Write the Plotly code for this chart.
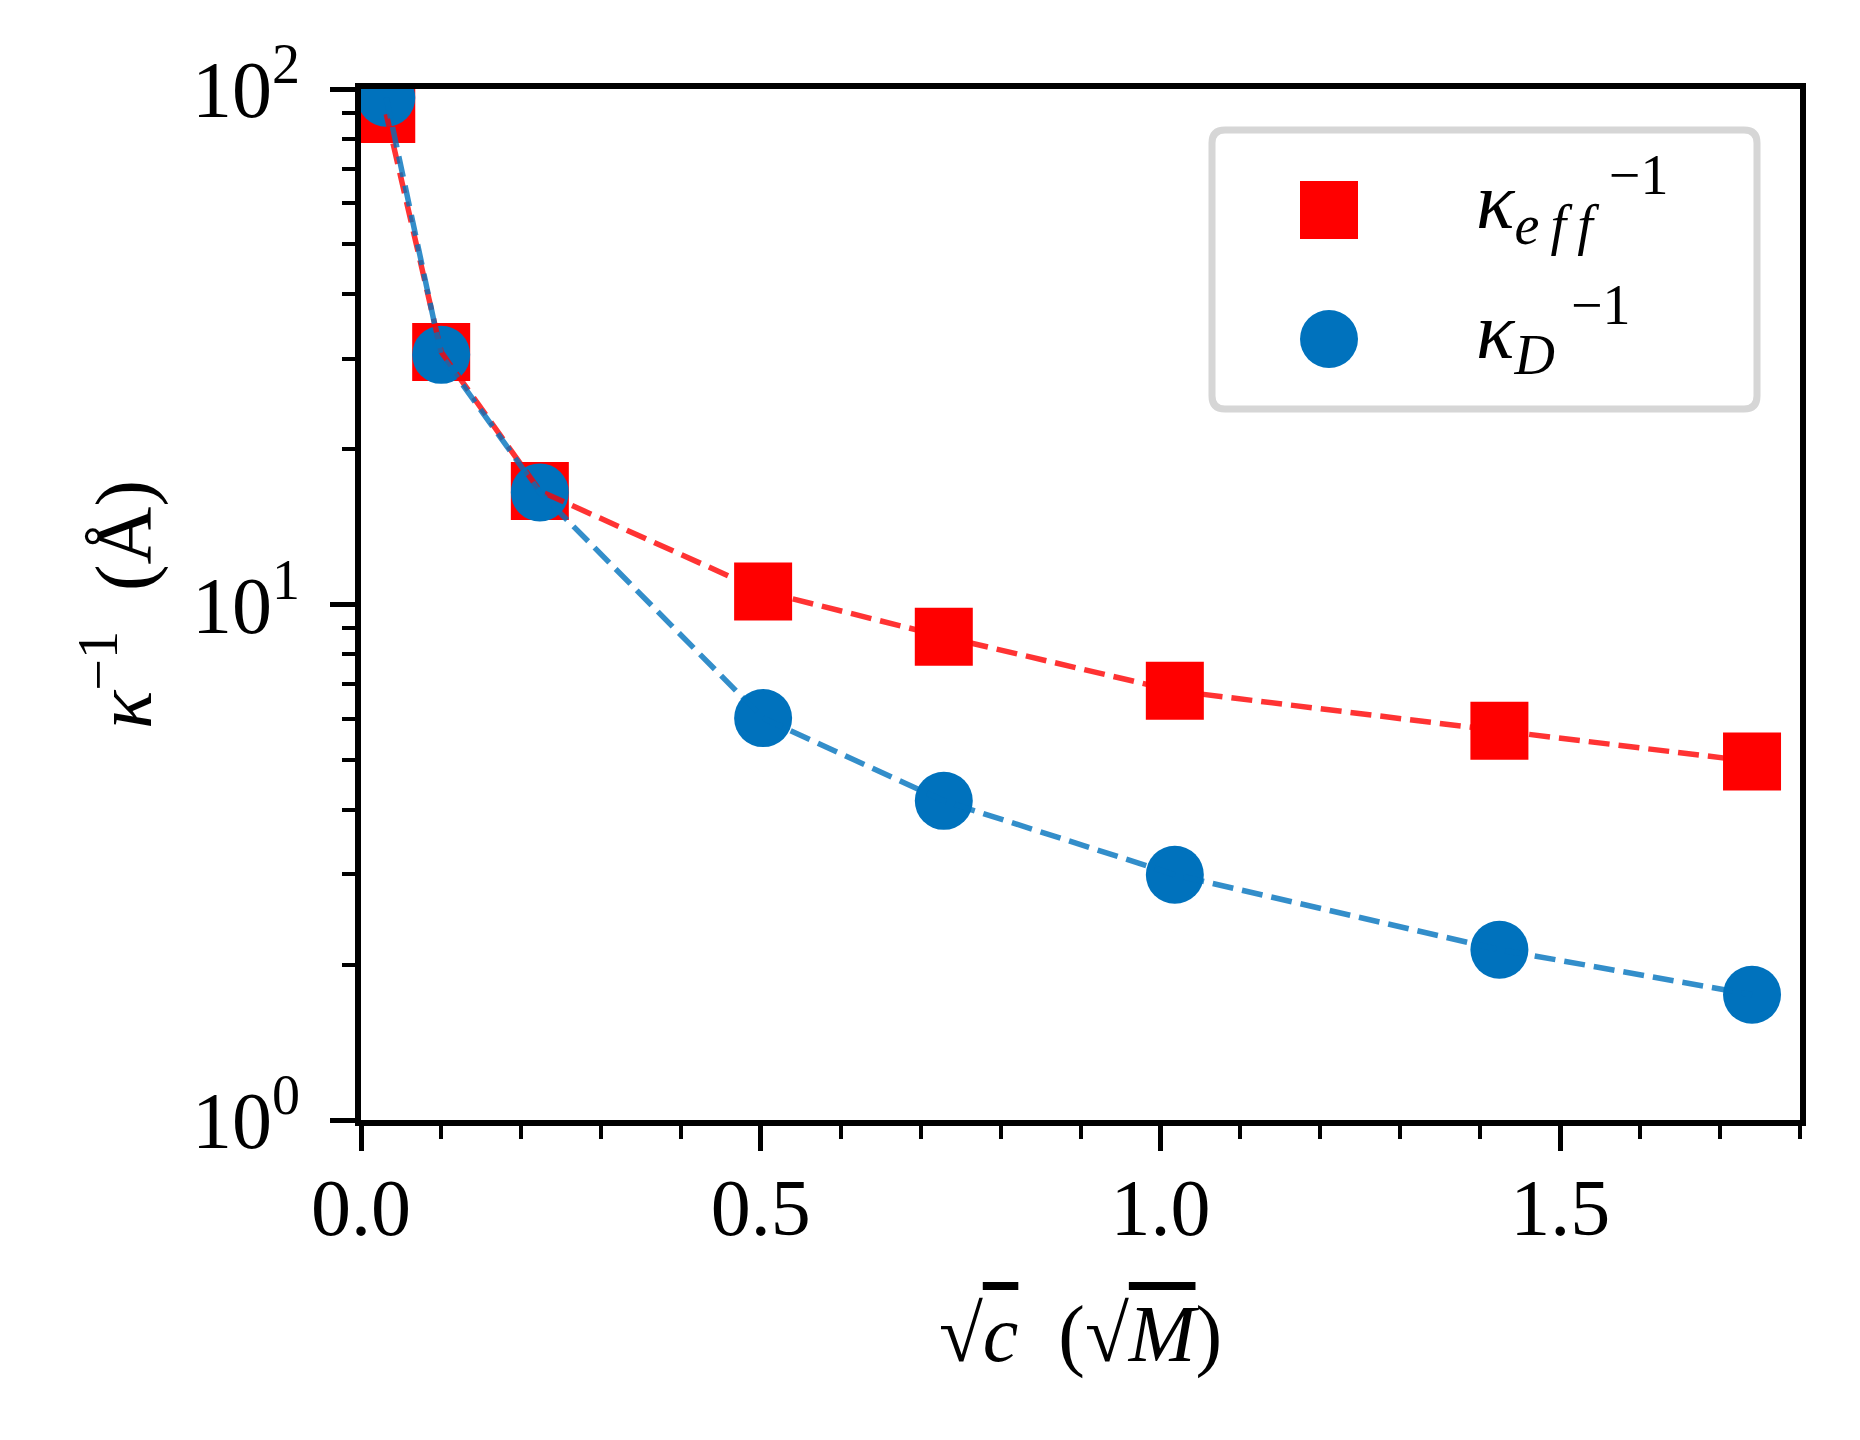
import plotly.graph_objects as go

# ---------------- data ----------------
sqrt_c = [0.0316, 0.1003, 0.2237, 0.503, 0.729, 1.018, 1.424, 1.740]
kappa_eff_inv = [89.4, 30.9, 16.6, 10.6, 8.66, 6.80, 5.69, 4.96]
kappa_d_inv = [96.2, 30.5, 16.5, 6.02, 4.16, 2.99, 2.14, 1.75]

name_eff = "<i>κ</i><sub><i>e\u2009f\u2009f</i></sub>\u2009<sup>−1</sup>"
name_d = "<i>κ</i><sub><i>D</i></sub>\u2009<sup>−1</sup>"

x_tick_vals = [0.0, 0.5, 1.0, 1.5]
x_tick_text = ["0.0", "0.5", "1.0", "1.5"]
y_tick_vals = [1, 10, 100]
y_tick_text = ["10<sup>0</sup>", "10<sup>1</sup>", "10<sup>2</sup>"]

# ---------------- styling ----------------
W, H = 1860, 1440
ML, MR, MT, MB = 361, 60, 89, 320
PW, PH = W - ML - MR, H - MT - MB
FONT = "Liberation Serif, Times New Roman, serif"
FS = 80
RED = "#ff0000"
BLUE = "#0072bd"
RED_LINE = "rgba(255,0,0,0.8)"
BLUE_LINE = "rgba(0,114,189,0.8)"
MSIZE = 58


def px_x(p):
    return (p - ML) / PW


def px_y(p):
    return (MT + PH - p) / PH


fig = go.Figure()

fig.add_trace(go.Scatter(x=sqrt_c, y=kappa_eff_inv, mode="markers", name=name_eff,
                         marker=dict(symbol="square", size=MSIZE, color=RED, line=dict(width=0)),
                         showlegend=False))
fig.add_trace(go.Scatter(x=sqrt_c, y=kappa_d_inv, mode="markers", name=name_d,
                         marker=dict(symbol="circle", size=MSIZE, color=BLUE, line=dict(width=0)),
                         showlegend=False))
fig.add_trace(go.Scatter(x=sqrt_c, y=kappa_eff_inv, mode="lines", showlegend=False,
                         line=dict(color=RED_LINE, width=5.5, dash="21px,9px")))
fig.add_trace(go.Scatter(x=sqrt_c, y=kappa_d_inv, mode="lines", showlegend=False,
                         line=dict(color=BLUE_LINE, width=5.5, dash="21px,9px")))

# ---------------- manual legend (rounded frame, large symbols) ----------------
bx0, bx1, by0, by1, rad = 1212, 1757, 130, 409, 13
X0, X1 = px_x(bx0), px_x(bx1)
Y0, Y1 = px_y(by0), px_y(by1)  # Y0 top (larger), Y1 bottom
rx, ry = rad / PW, rad / PH
path = (f"M {X0+rx},{Y0} L {X1-rx},{Y0} Q {X1},{Y0} {X1},{Y0-ry} "
        f"L {X1},{Y1+ry} Q {X1},{Y1} {X1-rx},{Y1} L {X0+rx},{Y1} "
        f"Q {X0},{Y1} {X0},{Y1+ry} L {X0},{Y0-ry} Q {X0},{Y0} {X0+rx},{Y0} Z")
shapes = [dict(type="path", xref="paper", yref="paper", path=path,
               line=dict(color="#d6d6d6", width=7), fillcolor="rgba(255,255,255,0.8)", layer="above")]

sym_cx, half = 1329, MSIZE / 2
for cy, kind, col in [(210, "rect", RED), (339, "circle", BLUE)]:
    shapes.append(dict(type=kind, xref="paper", yref="paper",
                       x0=px_x(sym_cx - half), x1=px_x(sym_cx + half),
                       y0=px_y(cy + half), y1=px_y(cy - half),
                       fillcolor=col, line=dict(width=0), layer="above"))

annotations = [
    dict(text=name_eff, xref="paper", yref="paper", x=px_x(1474), y=px_y(200),
         xanchor="left", yanchor="middle", showarrow=False, font=dict(family=FONT, size=FS, color="black")),
    dict(text=name_d, xref="paper", yref="paper", x=px_x(1474), y=px_y(330),
         xanchor="left", yanchor="middle", showarrow=False, font=dict(family=FONT, size=FS, color="black")),
]

axis_common = dict(showline=True, linecolor="black", linewidth=6, mirror=True,
                   ticks="outside", ticklen=25, tickwidth=5, tickcolor="black",
                   showgrid=False, zeroline=False,
                   tickfont=dict(family=FONT, size=FS, color="black"))

fig.update_layout(
    width=W, height=H,
    margin=dict(l=ML, r=MR, t=MT, b=MB),
    paper_bgcolor="white", plot_bgcolor="white",
    font=dict(family=FONT, size=FS, color="black"),
    shapes=shapes, annotations=annotations,
    xaxis=dict(range=[0, 1.8], tickvals=x_tick_vals, ticktext=x_tick_text,
               ticklabelstandoff=-12,
               minor=dict(ticks="outside", ticklen=13, tickwidth=4, tickcolor="black", dtick=0.1, showgrid=False),
               title=dict(text="√<span style='text-decoration:overline'><i>c</i></span>  (√<span style='text-decoration:overline'><i>M</i></span>)",
                          font=dict(family=FONT, size=FS), standoff=56),
               **axis_common),
    yaxis=dict(type="log", range=[0, 2], tickvals=y_tick_vals, ticktext=y_tick_text,
               ticklabelstandoff=14,
               minor=dict(ticks="outside", ticklen=13, tickwidth=4, tickcolor="black", dtick="D1", showgrid=False),
               title=dict(text="<i>κ</i><sup>−1</sup>  (Å)", font=dict(family=FONT, size=FS), standoff=16),
               **axis_common),
)

fig.write_html("out.html", config={"displayModeBar": False},
               post_script="document.body.style.margin='0';document.body.style.overflow='hidden';")
